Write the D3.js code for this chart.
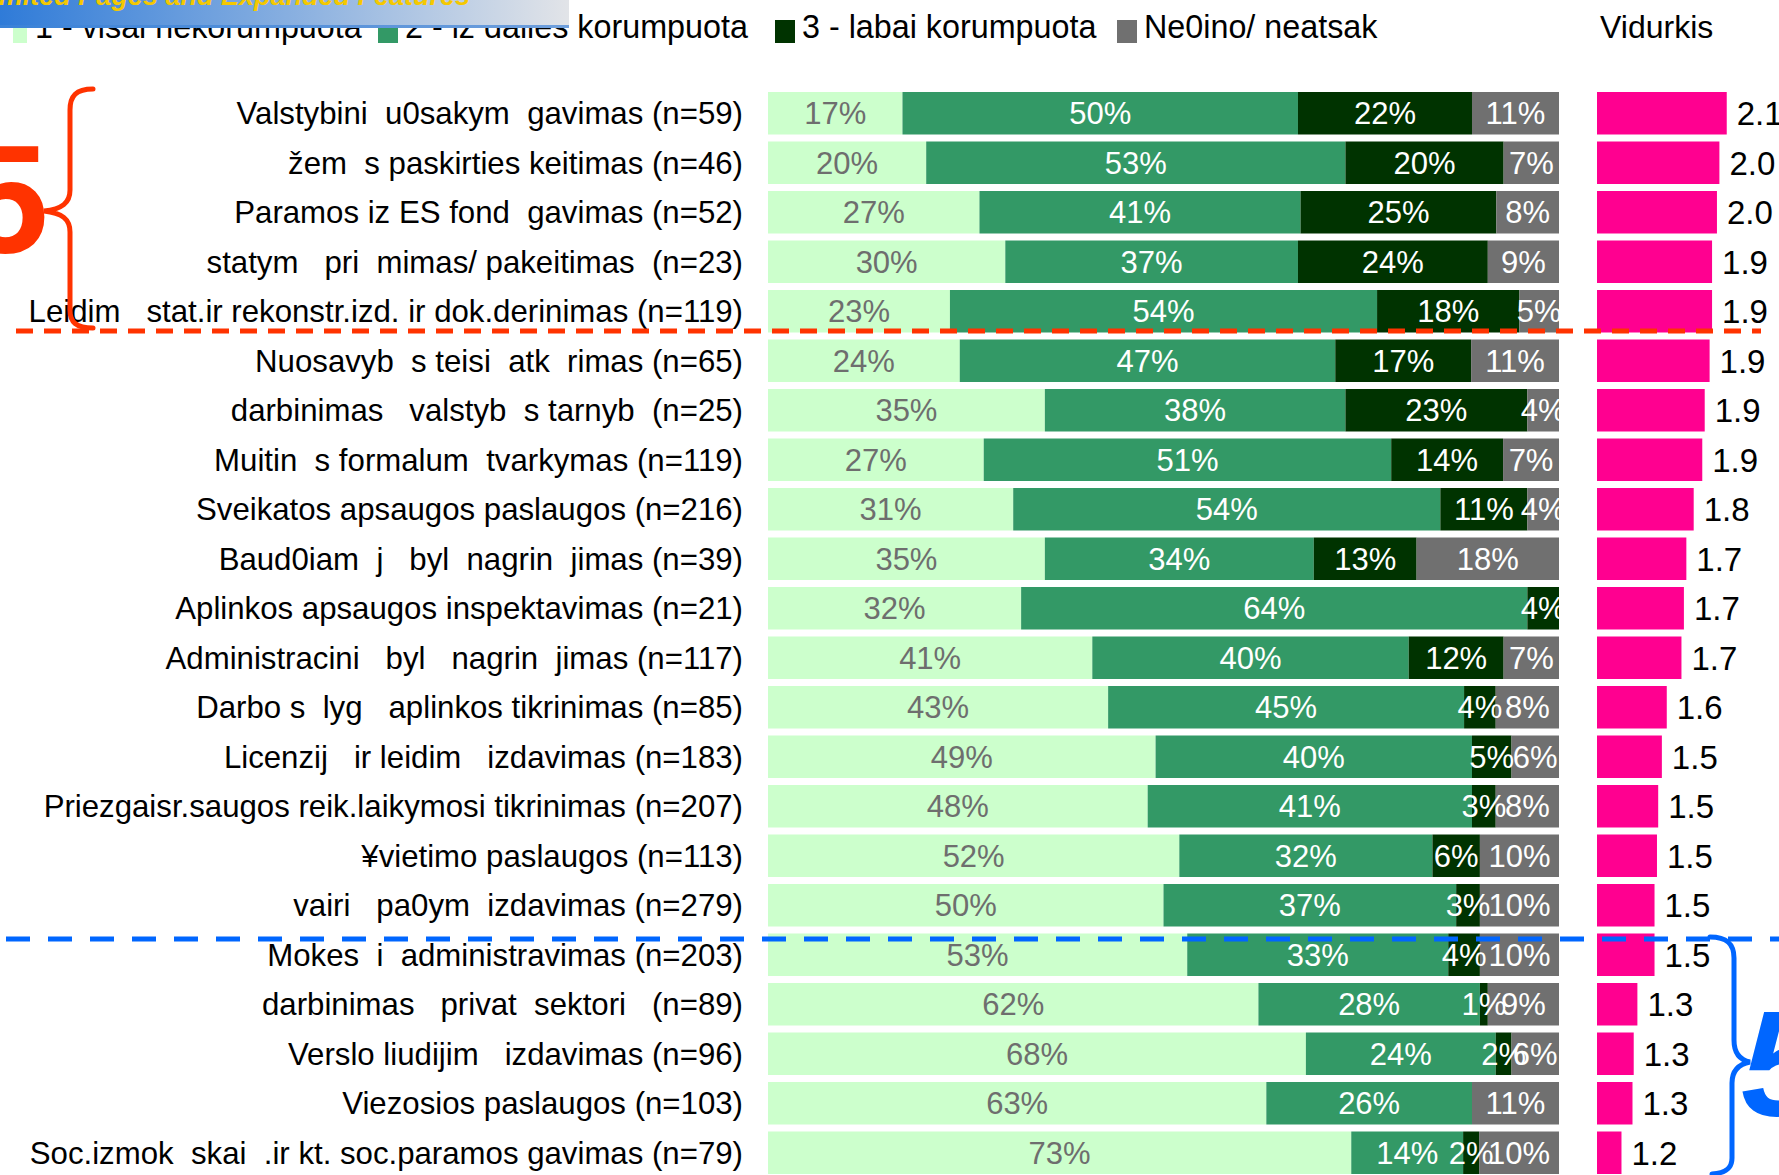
<!DOCTYPE html>
<html><head><meta charset="utf-8">
<script src="https://cdn.jsdelivr.net/npm/d3@7"></script>
<style>
body{margin:0;background:#fff;}
svg{display:block;}
text{font-family:"Liberation Sans", Arial, Helvetica, sans-serif; white-space:pre;}
</style>
</head><body>
<svg id="chart" width="1779" height="1175"></svg>
<script>
// ---------- DATA ----------
const categories = [
  "Valstybini  u0sakym  gavimas (n=59)",
  "žem  s paskirties keitimas (n=46)",
  "Paramos iz ES fond  gavimas (n=52)",
  "statym   pri  mimas/ pakeitimas  (n=23)",
  "Leidim   stat.ir rekonstr.izd. ir dok.derinimas (n=119)",
  "Nuosavyb  s teisi  atk  rimas (n=65)",
  "darbinimas   valstyb  s tarnyb  (n=25)",
  "Muitin  s formalum  tvarkymas (n=119)",
  "Sveikatos apsaugos paslaugos (n=216)",
  "Baud0iam  j   byl  nagrin  jimas (n=39)",
  "Aplinkos apsaugos inspektavimas (n=21)",
  "Administracini   byl   nagrin  jimas (n=117)",
  "Darbo s  lyg   aplinkos tikrinimas (n=85)",
  "Licenzij   ir leidim   izdavimas (n=183)",
  "Priezgaisr.saugos reik.laikymosi tikrinimas (n=207)",
  "¥vietimo paslaugos (n=113)",
  "vairi   pa0ym  izdavimas (n=279)",
  "Mokes  i  administravimas (n=203)",
  "darbinimas   privat  sektori   (n=89)",
  "Verslo liudijim   izdavimas (n=96)",
  "Viezosios paslaugos (n=103)",
  "Soc.izmok  skai  .ir kt. soc.paramos gavimas (n=79)"
];
const notCorrupt    = [17,20,27,30,23,24,35,27,31,35,32,41,43,49,48,52,50,53,62,68,63,73];
const partlyCorrupt = [50,53,41,37,54,47,38,51,54,34,64,40,45,40,41,32,37,33,28,24,26,14];
const veryCorrupt   = [22,20,25,24,18,17,23,14,11,13, 4,12, 4, 5, 3, 6, 3, 4, 1, 2, 0, 2];
const dontKnow      = [11, 7, 8, 9, 5,11, 4, 7, 4,18, 0, 7, 8, 6, 8,10,10,10, 9, 6,11,10];
const averages      = [2.06,2.00,1.98,1.94,1.94,1.92,1.88,1.86,1.79,1.73,1.71,1.69,1.57,1.53,1.50,1.49,1.47,1.47,1.33,1.30,1.29,1.20];
const seriesNames   = ["1 - visai nekorumpuota","2 - iz dalies korumpuota","3 - labai korumpuota","Ne0ino/ neatsak"];
const averageTitle  = "Vidurkis";
const bannerText    = "Unlimited Pages and Expanded Features";
const groupMarks    = ["5","5"];

// ---------- STYLE ----------
const colors = ["#CCFFCC","#339966","#003300","#707070"];
const labelColors = ["#6e6e6e","#ffffff","#ffffff","#ffffff"];
const pink = "#FF0090";
const red = "#FF3300";
const blue = "#0066FF";

const svg = d3.select("#chart");
const defs = svg.append("defs");
const keys = ["a","b","c","d"];
const rows = categories.map((c,i)=>({cat:c, a:notCorrupt[i], b:partlyCorrupt[i], c:veryCorrupt[i], d:dontKnow[i], avg:averages[i]}));

const y = d3.scaleBand().domain(categories).range([88.5,1177.5]).paddingInner(0.1414).paddingOuter(0.0707);
const x = d3.scaleLinear().domain([0,1]).range([768,1559]);
const xa = d3.scaleLinear().domain([1,2]).range([1597,1597+122.4]);

const stack = d3.stack().keys(keys).offset(d3.stackOffsetExpand);
const series = stack(rows);

defs.append("clipPath").attr("id","plotclip")
  .append("rect").attr("x",768).attr("y",0).attr("width",791).attr("height",1175);

// category labels
svg.append("g").selectAll("text").data(categories).join("text")
  .attr("x",743).attr("y",d=>y(d)+y.bandwidth()/2).attr("dy","0.36em")
  .attr("text-anchor","end").attr("font-size",31.2).attr("fill","#000")
  .text(d=>d);

// stacked bars
const gBars = svg.append("g").attr("clip-path","url(#plotclip)");
series.forEach((s,si)=>{
  gBars.append("g").selectAll("rect").data(s).join("rect")
    .attr("x",d=>x(d[0])).attr("y",d=>y(d.data.cat))
    .attr("width",d=>Math.max(0,x(d[1])-x(d[0]))).attr("height",y.bandwidth())
    .attr("fill",colors[si]);
});
series.forEach((s,si)=>{
  gBars.append("g").selectAll("text").data(s.filter(d=>d.data[keys[si]]>0)).join("text")
    .attr("x",d=>(x(d[0])+x(d[1]))/2).attr("y",d=>y(d.data.cat)+y.bandwidth()/2).attr("dy","0.36em")
    .attr("text-anchor","middle").attr("font-size",31).attr("fill",labelColors[si])
    .text(d=>d.data[keys[si]]+"%");
});

// average bars
const gAvg = svg.append("g");
gAvg.selectAll("rect").data(rows).join("rect")
  .attr("x",xa(1)).attr("y",d=>y(d.cat)).attr("width",d=>xa(d.avg)-xa(1)).attr("height",y.bandwidth())
  .attr("fill",pink);
gAvg.selectAll("text").data(rows).join("text")
  .attr("x",d=>xa(d.avg)+10).attr("y",d=>y(d.cat)+y.bandwidth()/2).attr("dy","0.36em")
  .attr("font-size",33).attr("fill","#000")
  .text(d=>d3.format(".1f")(d.avg));

// legend
const legX = [13,378,775,1117];
const leg = svg.append("g");
seriesNames.forEach((n,i)=>{
  leg.append("rect").attr("x",legX[i]).attr("y",20).attr("width",i===0?14:20).attr("height",23).attr("fill",colors[i]);
  leg.append("text").attr("x",legX[i]+(i===0?22:27)).attr("y",37.5).attr("font-size",32.3).attr("fill","#000").text(n);
});
leg.append("text").attr("x",1600).attr("y",37.5).attr("font-size",32).attr("fill","#000").text(averageTitle);

// group separators
svg.append("line").attr("x1",16).attr("x2",1761).attr("y1",331).attr("y2",331)
  .attr("stroke",red).attr("stroke-width",5).attr("stroke-dasharray","17 11");
svg.append("line").attr("x1",6).attr("x2",1779).attr("y1",939).attr("y2",939)
  .attr("stroke",blue).attr("stroke-width",5).attr("stroke-dasharray","24 18");

// braces and marks
svg.append("path")
  .attr("d","M93,89 C76,89 70,96 70,110 L70,190 C70,203 62,209 44,211 C62,213 70,219 70,232 L70,310 C70,322 76,328 93,328")
  .attr("fill","none").attr("stroke",red).attr("stroke-width",5).attr("stroke-linecap","round");
svg.append("text").attr("x",-37).attr("y",253).attr("font-size",154).attr("font-weight","bold")
  .attr("fill",red).text(groupMarks[0]);
svg.append("path")
  .attr("d","M1710,937 C1727,937 1734,944 1734,958 L1734,1040 C1734,1053 1740,1060 1750,1062 C1740,1064 1732,1070 1732,1083 L1732,1158 C1732,1168 1726,1173 1712,1174")
  .attr("fill","none").attr("stroke",blue).attr("stroke-width",5).attr("stroke-linecap","round");
svg.append("text").attr("x",1741).attr("y",1116).attr("font-size",150).attr("font-weight","bold")
  .attr("font-style","italic").attr("fill",blue).text(groupMarks[1]);

// banner overlay at top-left
const gr = defs.append("linearGradient").attr("id","bannerGrad").attr("x1","0").attr("x2","1").attr("y1","0").attr("y2","0");
gr.append("stop").attr("offset","0").attr("stop-color","#2F7BD8");
gr.append("stop").attr("offset","0.5").attr("stop-color","#86AEE0");
gr.append("stop").attr("offset","1").attr("stop-color","#E2E4E8");
const gr2 = defs.append("linearGradient").attr("id","bannerLine").attr("x1","0").attr("x2","1").attr("y1","0").attr("y2","0");
gr2.append("stop").attr("offset","0").attr("stop-color","#3A82D8");
gr2.append("stop").attr("offset","1").attr("stop-color","#6F9FDC");
svg.append("rect").attr("x",0).attr("y",0).attr("width",569).attr("height",26).attr("fill","url(#bannerGrad)");
svg.append("rect").attr("x",0).attr("y",25).attr("width",569).attr("height",3).attr("fill","url(#bannerLine)");
svg.append("text").attr("x",470).attr("y",5).attr("text-anchor","end").attr("font-size",27)
  .attr("font-weight","bold").attr("font-style","italic").attr("fill","#F5C800").text(bannerText);
</script>
</body></html>
